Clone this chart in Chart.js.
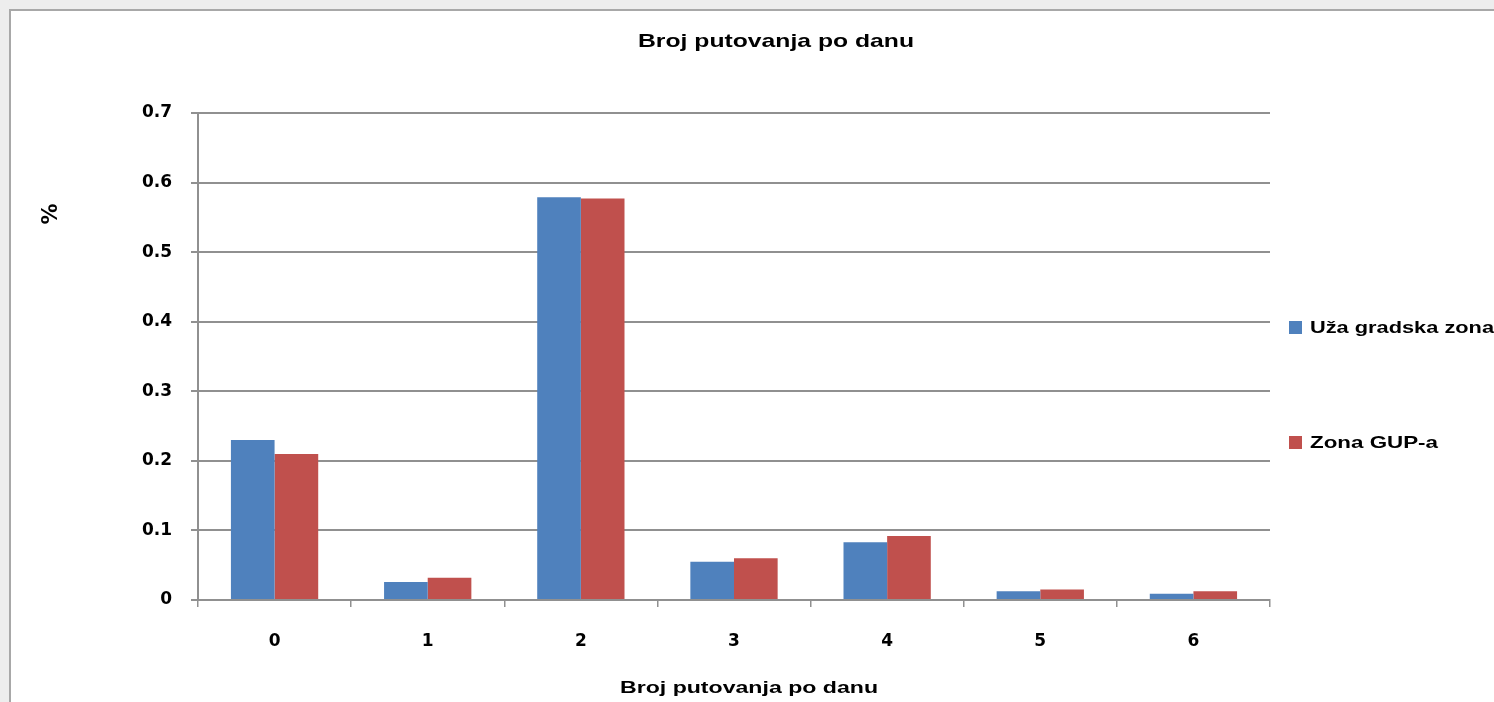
<!DOCTYPE html>
<html>
<head>
<meta charset="utf-8">
<script src="https://cdn.jsdelivr.net/npm/chart.js@4.4.0/dist/chart.umd.min.js"></script>
<style>
  html, body { margin: 0; padding: 0; background: #ededed; }
  #wrap { width: 1494px; height: 702px; position: relative; }
</style>
</head>
<body>
<div id="wrap"><canvas id="c" width="1494" height="702"></canvas></div>
<script>
const categories = ['0', '1', '2', '3', '4', '5', '6'];
const seriesNames = ['Uža gradska zona', 'Zona GUP-a'];
const uzaGradskaZona = [0.23, 0.026, 0.579, 0.055, 0.083, 0.0125, 0.009];
const zonaGUPa = [0.21, 0.032, 0.577, 0.060, 0.092, 0.015, 0.0125];
const yTicks = [0, 0.1, 0.2, 0.3, 0.4, 0.5, 0.6, 0.7];
const chartTitle = 'Broj putovanja po danu';
const xTitle = 'Broj putovanja po danu';
const yTitle = '%';
const colors = ['#4f81bd', '#c0504d'];

const FONT = "'Liberation Sans', Arial, sans-serif";
const TICKFONT = "'DejaVu Sans', sans-serif";

// draw text stretched horizontally to reach a target width
function stretchText(ctx, text, x, y, targetW, align) {
  const w = ctx.measureText(text).width;
  const sx = targetW / w;
  ctx.save();
  ctx.translate(x, y);
  ctx.scale(sx, 1);
  ctx.textAlign = align;
  ctx.fillText(text, 0, 0);
  ctx.restore();
}

const decor = {
  id: 'decor',
  beforeDraw(chart) {
    const ctx = chart.ctx;
    ctx.save();
    ctx.fillStyle = '#ededed';
    ctx.fillRect(0, 0, 1494, 702);
    ctx.fillStyle = '#ffffff';
    ctx.fillRect(10, 10, 1494, 702);
    ctx.strokeStyle = '#a8a8a8';
    ctx.lineWidth = 2;
    ctx.beginPath();
    ctx.moveTo(10, 702); ctx.lineTo(10, 10); ctx.lineTo(1494, 10);
    ctx.stroke();
    ctx.restore();
  },
  afterDraw(chart) {
    const ctx = chart.ctx;
    ctx.save();
    ctx.fillStyle = '#000';
    ctx.textBaseline = 'middle';
    ctx.font = 'bold 19px ' + FONT;
    stretchText(ctx, chartTitle, 776, 42, 276, 'center');
    ctx.font = 'bold 17px ' + FONT;
    stretchText(ctx, xTitle, 749, 688, 258, 'center');
    ctx.save();
    ctx.translate(52, 214);
    ctx.rotate(-Math.PI / 2);
    ctx.font = 'bold 21px ' + TICKFONT;
    ctx.textAlign = 'center';
    ctx.fillText(yTitle, 0, 0);
    ctx.restore();
    // legend
    ctx.font = 'bold 17px ' + FONT;
    const ys = [328, 443];
    const widths = [184, 128];
    chart.data.datasets.forEach((ds, i) => {
      ctx.fillStyle = ds.backgroundColor;
      ctx.fillRect(1289, ys[i] - 7, 13, 13);
      ctx.fillStyle = '#000';
      stretchText(ctx, ds.label, 1310, ys[i], widths[i], 'left');
    });
    ctx.restore();
  }
};

new Chart(document.getElementById('c'), {
  type: 'bar',
  data: {
    labels: categories,
    datasets: [
      { label: seriesNames[0], data: uzaGradskaZona, backgroundColor: colors[0] },
      { label: seriesNames[1], data: zonaGUPa, backgroundColor: colors[1] }
    ]
  },
  options: {
    responsive: false,
    animation: false,
    layout: { padding: { top: 113, right: 224, left: 0, bottom: 0 } },
    categoryPercentage: 0.57,
    barPercentage: 1.0,
    plugins: {
      legend: { display: false },
      title: { display: false },
      tooltip: { enabled: false }
    },
    scales: {
      x: {
        afterFit(scale) { scale.height = 102; },
        grid: {
          offset: true,
          drawOnChartArea: false,
          drawTicks: true,
          tickLength: 7,
          color: '#909090',
          lineWidth: 1.5
        },
        border: { display: true, color: '#909090', width: 2 },
        ticks: {
          color: '#000',
          padding: 24,
          font: { family: TICKFONT, size: 17, weight: 'bold' }
        }
      },
      y: {
        min: 0,
        max: 0.7,
        afterFit(scale) { scale.width = 198; },
        afterBuildTicks(scale) { scale.ticks = yTicks.map(v => ({ value: v })); },
        grid: {
          color: '#909090',
          lineWidth: 2,
          drawTicks: true,
          tickLength: 7
        },
        border: { display: true, color: '#909090', width: 2 },
        ticks: {
          color: '#000',
          padding: 19,
          font: { family: TICKFONT, size: 17, weight: 'bold' },
          callback: (v) => String(Number(Number(v).toFixed(1)))
        }
      }
    }
  },
  plugins: [decor]
});
</script>
</body>
</html>
